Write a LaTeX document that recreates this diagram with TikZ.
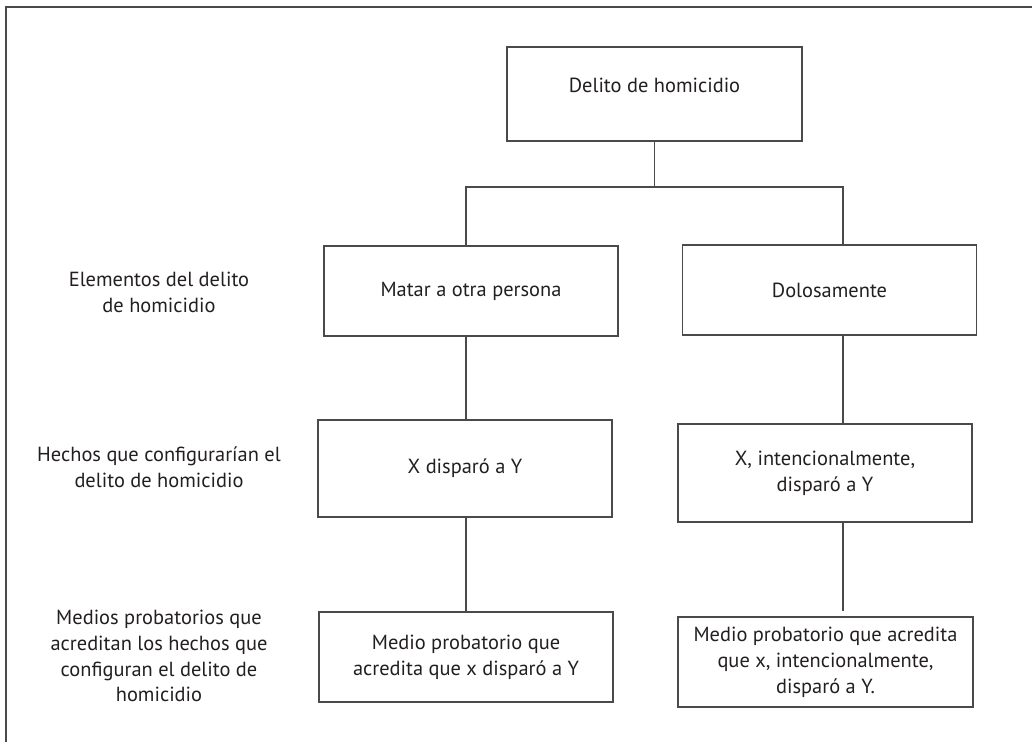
\documentclass[tikz,border=0pt]{standalone}
\usepackage{fontspec}
\setmainfont{PT Sans}
\definecolor{ink}{HTML}{231F20}
\definecolor{rule}{HTML}{4A4A4A}

\tikzstyle{line} = [draw=rule, line width=1.3bp]
\tikzstyle{txt} = [align=center, text=ink, inner sep=0pt, font=\fontsize{20.5}{26}\selectfont]
\tikzstyle{box} = [txt, draw=rule, line width=1.3bp, minimum width=294bp, minimum height=90bp]

\begin{document}
\begin{tikzpicture}[x=1bp, y=-1bp]
\useasboundingbox (0,0) rectangle (1032,742);

\draw [line] (6,760) |- (1050,7);

\node [box, minimum width=295bp, minimum height=94bp, text height=15bp, text depth=17bp] (delito) at (654.5,94) {Delito de homicidio};

\node [box] (matar) at (471,291) {Matar a otra persona};
\node [box] (dolo) at (829.5,290) {Dolosamente};
\node [box, minimum height=97bp] (dispL) at (465,468.5) {X disparó a Y};
\node [box, minimum height=98bp] (dispR) at (825,473) {X, intencionalmente,\\disparó a Y};
\node [box] (medioL) at (466,657) {Medio probatorio que\\acredita que x disparó a Y};
\node [box, minimum width=295bp] (medioR) at (825.5,662) {Medio probatorio que acredita\\que x, intencionalmente,\\disparó a Y.};

\node [txt] (elem) at (159,292) {Elementos del delito\\de homicidio};
\node [txt] (hechos) at (159,467) {Hechos que configurarían el\\delito de homicidio};
\node [txt] (medios) at (159,656) {Medios probatorios que\\acreditan los hechos que\\configuran el delito de\\homicidio};

\coordinate (colL) at (466,187);
\coordinate (colR) at (843,187);

\draw [line] (delito.south) -- (delito.south |- colL);
\draw [line] (matar.north -| colL) -- (colL) -- (colR) -- (dolo.north -| colR);
\draw [line] (matar.south -| colL) -- (dispL.north -| colL);
\draw [line] (dispL.south -| colL) -- (medioL.north -| colL);
\draw [line] (dolo.south -| colR) -- (dispR.north -| colR);
\draw [line] (dispR.south -| colR) -- ([yshift=5bp]medioR.north -| colR);

\end{tikzpicture}
\end{document}
